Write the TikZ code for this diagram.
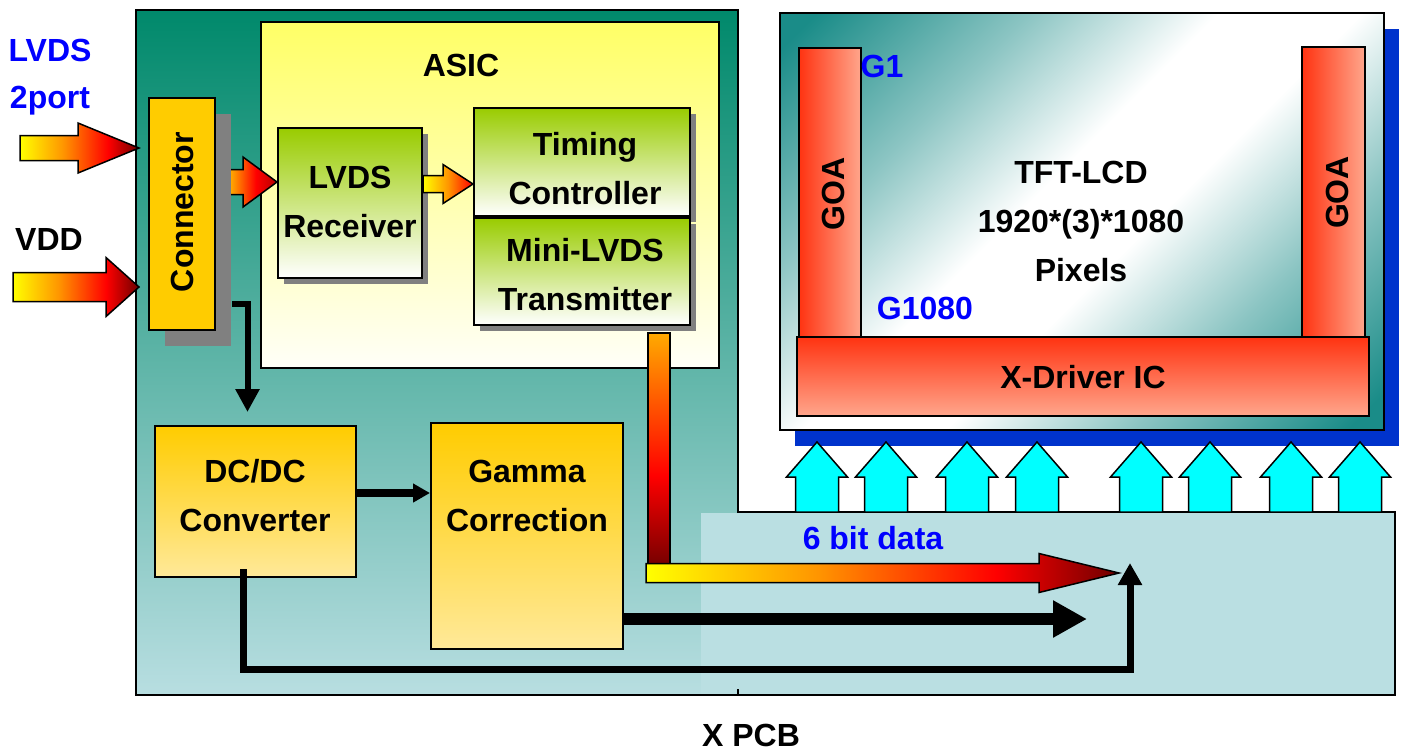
\documentclass[tikz,border=0pt]{standalone}
\usepackage{fontspec}
\setmainfont{Liberation Sans}
\usetikzlibrary{calc,arrows.meta,shadows}
\definecolor{pcbtop}{RGB}{0,137,107}
\definecolor{pcbbot}{RGB}{184,222,225}
\definecolor{pcbext}{RGB}{186,223,226}
\definecolor{asictop}{RGB}{255,255,102}
\definecolor{asicbot}{RGB}{255,255,248}
\definecolor{conncol}{RGB}{255,204,0}
\definecolor{shgray}{RGB}{128,128,128}
\definecolor{grtop}{RGB}{153,204,0}
\definecolor{dctop}{RGB}{255,204,0}
\definecolor{dcbot}{RGB}{255,233,153}
\definecolor{goared}{RGB}{255,51,17}
\definecolor{goasal}{RGB}{255,166,140}
\definecolor{lcdblue}{RGB}{0,51,204}
\definecolor{lcdteal}{RGB}{26,140,136}
\definecolor{lcdmid}{RGB}{140,197,195}
\definecolor{txtblue}{RGB}{0,0,255}
\definecolor{cyanarr}{RGB}{0,255,255}
\definecolor{hotyel}{RGB}{255,255,0}
\definecolor{hotorg}{RGB}{255,150,0}
\definecolor{hotorgB}{RGB}{255,170,0}
\definecolor{hotred}{RGB}{255,0,0}
\definecolor{hotdark}{RGB}{110,0,0}
\definecolor{hotdarkB}{RGB}{180,0,0}
\pgfdeclarehorizontalshading{hotshade}{100bp}{color(0bp)=(hotyel); color(25bp)=(hotyel); color(43bp)=(hotorg); color(62bp)=(hotred); color(75bp)=(hotdark); color(100bp)=(hotdark)}
\pgfdeclarehorizontalshading{hotshadeB}{100bp}{color(0bp)=(hotyel); color(25bp)=(hotyel); color(40bp)=(hotorg); color(58bp)=(hotred); color(75bp)=(hotdarkB); color(100bp)=(hotdarkB)}
\pgfdeclarehorizontalshading{hotshadeC}{100bp}{color(0bp)=(hotyel); color(25bp)=(hotyel); color(50bp)=(hotorg); color(75bp)=(hotred); color(100bp)=(hotred)}
\pgfdeclareverticalshading{hotvert}{100bp}{color(0bp)=(hotdark); color(25bp)=(hotdark); color(45bp)=(hotred); color(75bp)=(hotorgB); color(100bp)=(hotorgB)}
\pgfdeclareverticalshading{lcdshade}{100bp}{color(0bp)=(lcdteal); color(17bp)=(lcdteal); color(32bp)=(lcdmid); color(45bp)=(white); color(55bp)=(white); color(68bp)=(lcdmid); color(83bp)=(lcdteal); color(100bp)=(lcdteal)}
% horizontal block arrow: start, end, shaft half, head half, head length, style
\newcommand{\harrow}[6]{%
  \path[#6] let \p1=(#1), \p2=(#2) in
   (\x1,\y1+#3) -- (\x2-#5,\y1+#3) -- (\x2-#5,\y1+#4) -- (\x2,\y1)
   -- (\x2-#5,\y1-#4) -- (\x2-#5,\y1-#3) -- (\x1,\y1-#3) -- cycle;}
\begin{document}
\begin{tikzpicture}[x=0.5pt,y=-0.5pt,
  txt/.style={font=\fontsize{16}{24.5}\selectfont\bfseries, inner sep=0pt, align=center},
  bluetxt/.style={txt, text=txtblue},
  boxline/.style={draw, line width=1pt, inner sep=0pt},
  asicbox/.style={boxline, top color=asictop, bottom color=asicbot},
  greenbox/.style={boxline, top color=grtop, bottom color=white,
     drop shadow={shadow xshift=3pt, shadow yshift=-3pt, fill=shgray, opacity=1}},
  connbox/.style={boxline, fill=conncol,
     drop shadow={shadow xshift=8pt, shadow yshift=-8pt, fill=shgray, opacity=1}},
  dcbox/.style={boxline, top color=dctop, bottom color=dcbot},
  goabox/.style={boxline, left color=goared, right color=goasal},
  drvbox/.style={boxline, top color=goared, bottom color=goasal},
  lcdbox/.style={boxline, shade, shading=lcdshade, shading angle=45,
     drop shadow={shadow xshift=7.5pt, shadow yshift=-8pt, fill=lcdblue, opacity=1}},
  hotarrow/.style={shade, shading=#1, draw=black, line width=0.75pt},
  upcyan/.style={draw=black, line width=0.75pt, fill=cyanarr}
]
\useasboundingbox (0,0) rectangle (1402,751);

% ---------- PCB ----------
\shade[top color=pcbtop, bottom color=pcbbot] (136,10) rectangle (738,695);
\fill[pcbext] (701,513) rectangle (1395,695);
\draw[line width=1pt] (136,10) -| (738,512) -| (1395,695) -- (136,695) -- cycle;
\draw[line width=0.75pt] (738,695) -- (738,689);
\node[txt, anchor=base] (xpcb) at (751,746) {X PCB};

% ---------- LCD panel ----------
\node[lcdbox, minimum width=302pt, minimum height=208.5pt] (lcd) at (1082,221.5) {};
\node[goabox, minimum width=31pt, minimum height=145pt] (goaL) at (830,193) {};
\node[goabox, minimum width=31.5pt, minimum height=145pt] (goaR) at (1333.5,192) {};
\node[txt, rotate=90] (goaLt) at (833,194) {GOA};
\node[txt, rotate=90] (goaRt) at (1337,192.5) {GOA};
\node[drvbox, minimum width=286pt, minimum height=39.5pt] (xdrv) at (1083,376.5) {};
\node[txt, anchor=base] (xdrvt) at (1083,388) {X-Driver IC};
\node[txt] (tft) at (1081,221.5) {TFT-LCD\\1920*(3)*1080\\Pixels};
\node[bluetxt, anchor=base] (g1) at (882,77) {G1};
\node[bluetxt, anchor=base] (g1080) at (925,319) {G1080};

% cyan data arrows
\foreach \cx in {817,886,967,1037,1141,1210,1291,1360}{
  \draw[upcyan] (\cx-21.5,512) -- (\cx-21.5,477) -- (\cx-30.5,477) -- (\cx,442)
     -- (\cx+30.5,477) -- (\cx+21.5,477) -- (\cx+21.5,512) -- cycle;
}

% ---------- ASIC ----------
\node[asicbox, minimum width=229pt, minimum height=173pt] (asic) at (490,195) {};
\node[txt, anchor=base] (asict) at (461,76) {ASIC};
\node[greenbox, minimum width=72pt, minimum height=75pt] (recv) at (350,203) {};
\node[txt] (recvt) at (350,202) {LVDS\\Receiver};
\node[greenbox, minimum width=108pt, minimum height=54pt] (tc) at (582,162) {};
\node[txt] (tct) at (585,168.5) {Timing\\Controller};
\node[greenbox, minimum width=108pt, minimum height=53.5pt] (mini) at (582,271.5) {};
\node[txt] (minit) at (585,274.5) {Mini-LVDS\\Transmitter};

% arrow receiver -> timing controller
\coordinate (rt) at ([yshift=9.5pt]recv.east);
\harrow{rt}{rt -| tc.west}{4.25pt}{9.75pt}{15pt}{hotarrow=hotshadeC}

% arrow connector -> receiver (starts under connector shadow)
\coordinate (cA) at (215,182);
\harrow{cA}{cA -| recv.west}{6.25pt}{12.5pt}{17pt}{hotarrow=hotshadeB}

% ---------- Connector ----------
\node[connbox, minimum width=33pt, minimum height=116pt] (conn) at (182,214) {};
\node[txt, rotate=90] (connt) at (182,212) {Connector};

% input arrows
\coordinate (connL) at ([xshift=-4.5pt]conn.west);
\coordinate (lvin) at (20,148);
\harrow{lvin}{lvin -| connL}{6.25pt}{12.5pt}{30.5pt}{hotarrow=hotshade}
\coordinate (vddin) at (13,287);
\harrow{vddin}{vddin -| connL}{7.25pt}{14.75pt}{16.5pt}{hotarrow=hotshade}
\node[bluetxt, anchor=base] (lvdsl) at (50,61) {LVDS};
\node[bluetxt, anchor=base] (portl) at (50,108) {2port};
\node[txt, anchor=base] (vddl) at (49,250) {VDD};

% ---------- DC/DC and Gamma ----------
\node[dcbox, minimum width=100.5pt, minimum height=75.5pt] (dcdc) at (255.5,501.5) {};
\node[txt] (dcdct) at (255,496) {DC/DC\\Converter};
\node[dcbox, minimum width=96pt, minimum height=113pt] (gamma) at (527,536) {};
\node[txt] (gammat) at (527,496) {Gamma\\Correction};

% connector -> DC/DC
\coordinate (cD) at (232,304);
\draw[line width=3pt, -{Triangle[length=11.5pt,width=11.5pt]}] (cD) -| ($(dcdc.north)+(-8,-13)$);
% DC/DC -> Gamma
\coordinate (dg) at ([yshift=4.25pt]dcdc.east);
\draw[line width=4pt, -{Triangle[length=8.5pt,width=9pt]}] (dg) -- (dg -| gamma.west);

% ---------- 6 bit data path ----------
\path[shade, shading=hotvert, draw=black, line width=0.75pt]
   ($(mini.south)+(66,7)$) rectangle ($(mini.south)+(88,245)$);
\coordinate (d6s) at (646,573);
\coordinate (d6e) at (1119,573);
\harrow{d6s}{d6e}{4.75pt}{9.75pt}{40pt}{hotarrow=hotshade}
\node[bluetxt, anchor=base] (bitl) at (873,549) {6 bit data};

% Gamma output
\coordinate (gEnd) at (1087,619);
\draw[line width=6pt, -{Triangle[length=17pt,width=17.5pt]}] (gamma.east |- gEnd) -- (gEnd);
% DC/DC output
\coordinate (bUp) at (1130,563);
\draw[line width=3.5pt, -{Triangle[length=11pt,width=11.5pt]}]
   ($(dcdc.south)+(-12.5,-9)$) |- ($(bUp)+(0,106)$) -- (bUp);
\end{tikzpicture}
\end{document}
